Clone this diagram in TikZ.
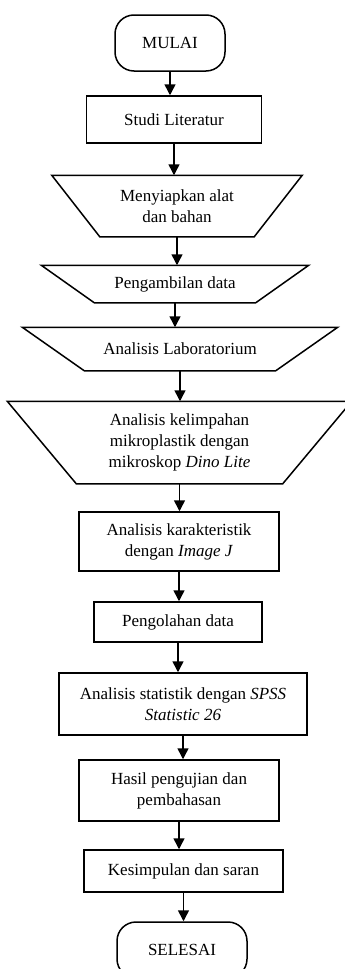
\documentclass[tikz,border=0pt]{standalone}
\usepackage{fontspec}
\setmainfont{Liberation Serif}
\usetikzlibrary{arrows.meta}
\newcommand\drawtrap[2]{\draw (#1.north west) -- (#1.north east) -- ([xshift=-#2pt]#1.south east) -- ([xshift=#2pt]#1.south west) -- cycle;}
\begin{document}
\begin{tikzpicture}[x=1pt,y=-1pt,line width=1.5pt,
  every node/.style={font=\fontsize{17}{21}\selectfont, align=center, inner sep=0pt},
  term/.style={draw, rectangle, rounded corners=19pt},
  proc/.style={draw, rectangle},
  io/.style={rectangle, draw=none},
  arr/.style={-{Triangle[length=11pt,width=11pt]}, line width=1.5pt}]
\useasboundingbox (0,0) rectangle (345,969);
\clip (0,0) rectangle (345,969);

\node[term, minimum width=110pt, minimum height=56pt] (mulai) at (170,43) {MULAI};
\node[proc, minimum width=175pt, minimum height=47pt] (studi) at (174,119.5) {Studi Literatur};
\node[io, minimum width=249pt, minimum height=60pt] (alat) at (177,206) {Menyiapkan alat\\dan bahan};
\node[io, minimum width=266pt, minimum height=36pt] (ambil) at (175,284) {Pengambilan data};
\node[io, minimum width=314pt, minimum height=42pt] (lab) at (180,349) {Analisis Laboratorium};
\node[io, minimum width=343pt, minimum height=81pt] (limpah) at (179.5,442.5) {Analisis kelimpahan\\mikroplastik dengan\\mikroskop \textit{Dino Lite}};
\node[proc, minimum width=200pt, minimum height=59pt] (karak) at (179,541.5) {Analisis karakteristik\\dengan \textit{Image J}};
\node[proc, minimum width=168pt, minimum height=40pt] (olah) at (178,622) {Pengolahan data};
\node[proc, minimum width=248pt, minimum height=62pt] (stat) at (183,704) {Analisis statistik dengan \textit{SPSS}\\\textit{Statistic 26}};
\node[proc, minimum width=200pt, minimum height=61pt] (hasil) at (179,790.5) {Hasil pengujian dan\\pembahasan};
\node[proc, minimum width=199pt, minimum height=42pt] (simpul) at (183.5,871) {Kesimpulan dan saran};
\node[term, minimum width=130pt, minimum height=56pt] (selesai) at (182,950) {SELESAI};

\drawtrap{alat}{48}
\drawtrap{ambil}{53}
\drawtrap{lab}{62}
\drawtrap{limpah}{69}

\draw[arr] (mulai.south) -- (mulai.south |- studi.north);
\draw[arr] (studi.south) -- (studi.south |- alat.north);
\draw[arr] (alat.south) -- (alat.south |- ambil.north);
\draw[arr] (ambil.south) -- (ambil.south |- lab.north);
\draw[arr] (lab.south) -- (lab.south |- limpah.north);
\draw[arr] (limpah.south) -- (limpah.south |- karak.north);
\draw[arr] (karak.south) -- (karak.south |- olah.north);
\draw[arr] (olah.south) -- (olah.south |- stat.north);
\draw[arr] (stat.south) -- (stat.south |- hasil.north);
\draw[arr] (hasil.south) -- (hasil.south |- simpul.north);
\draw[arr] (simpul.south) -- (simpul.south |- selesai.north);
\end{tikzpicture}
\end{document}
